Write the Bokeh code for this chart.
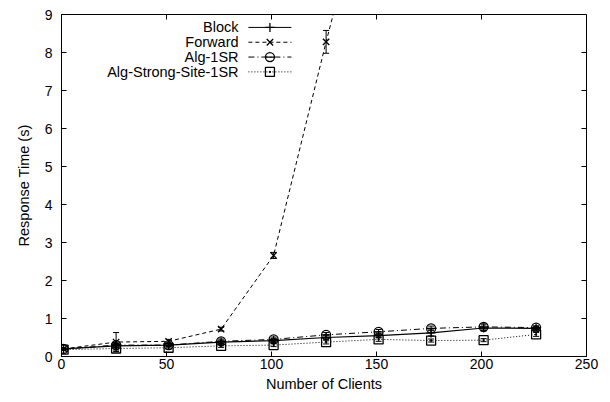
import numpy as np
from bokeh.plotting import figure
from bokeh.models import Range1d, FixedTicker, ColumnDataSource, Whisker, TeeHead
from bokeh.core.properties import value
from bokeh.embed import file_html
from bokeh.resources import INLINE

clients = [1, 26, 51, 76, 101, 126, 151, 176, 201, 226]
block = [0.20, 0.28, 0.30, 0.38, 0.42, 0.50, 0.55, 0.62, 0.75, 0.74]
block_err = [0.02, 0.05, 0.04, 0.05, 0.05, 0.06, 0.06, 0.08, 0.08, 0.05]
forward_x = [1, 26, 51, 76, 101, 126, 151]
forward = [0.20, 0.38, 0.40, 0.72, 2.66, 8.28, 13.6]
forward_err = [0.02, 0.25, 0.05, 0.05, 0.08, 0.30, 0.3]
alg1 = [0.20, 0.30, 0.30, 0.40, 0.45, 0.57, 0.65, 0.74, 0.78, 0.76]
alg1_err = [0.02, 0.06, 0.05, 0.06, 0.06, 0.06, 0.06, 0.06, 0.08, 0.05]
strong = [0.18, 0.21, 0.23, 0.28, 0.30, 0.38, 0.45, 0.42, 0.43, 0.58]
strong_err = [0.02, 0.04, 0.04, 0.04, 0.04, 0.05, 0.05, 0.04, 0.04, 0.05]

labels = ["Block", "Forward", "Alg-1SR", "Alg-Strong-Site-1SR"]
x_ticks = [0, 50, 100, 150, 200, 250]
y_ticks = [0, 1, 2, 3, 4, 5, 6, 7, 8, 9]

FONT = "Liberation Sans"
TICK_FS = "14px"
LABEL_FS = "14.5px"
X_MAX, Y_MAX = 250, 9

p = figure(width=600, height=394, output_backend="svg", toolbar_location=None,
           x_range=Range1d(0, X_MAX), y_range=Range1d(0, Y_MAX))
p.min_border_left = 61
p.min_border_right = 14
p.min_border_top = 14
p.min_border_bottom = 38
p.xgrid.visible = False
p.ygrid.visible = False
p.outline_line_color = "black"
p.outline_line_width = 1
p.background_fill_color = "white"
p.border_fill_color = "white"

for ax, ticks in ((p.xaxis[0], x_ticks), (p.yaxis[0], y_ticks)):
    ax.ticker = FixedTicker(ticks=ticks)
    ax.major_tick_in = 5
    ax.major_tick_out = 0
    ax.minor_tick_line_color = None
    ax.axis_line_color = "black"
    ax.major_tick_line_color = "black"
    ax.major_label_text_font = FONT
    ax.major_label_text_font_size = TICK_FS
    ax.major_label_text_color = "black"
    ax.axis_label_text_font = FONT
    ax.axis_label_text_font_size = LABEL_FS
    ax.axis_label_text_font_style = "normal"
    ax.axis_label_text_color = "black"

p.xaxis.axis_label = "Number of Clients"
p.yaxis.axis_label = "Response Time (s)"
p.xaxis.major_label_standoff = 2
p.xaxis.axis_label_standoff = 4
p.yaxis.major_label_standoff = 9
p.yaxis.axis_label_standoff = 10

# mirrored inward ticks on top and right borders (5 px long)
tx = 5 / 525 * X_MAX
ty = 5 / 342 * Y_MAX
p.segment(x0=x_ticks, y0=[Y_MAX] * len(x_ticks), x1=x_ticks, y1=[Y_MAX - ty] * len(x_ticks),
          line_color="black", line_width=1)
p.segment(x0=[X_MAX] * len(y_ticks), y0=y_ticks, x1=[X_MAX - tx] * len(y_ticks), y1=y_ticks,
          line_color="black", line_width=1)

def errbars(xs, ys, es):
    src = ColumnDataSource(dict(x=xs, upper=[y + e for y, e in zip(ys, es)],
                                lower=[max(y - e, 0) for y, e in zip(ys, es)]))
    w = Whisker(source=src, base="x", upper="upper", lower="lower",
                line_color="black", line_width=1,
                upper_head=TeeHead(size=6, line_color="black"),
                lower_head=TeeHead(size=6, line_color="black"))
    p.add_layout(w)

# Block
p.line(clients, block, line_color="black", line_width=1.2)
p.scatter(clients, block, marker="cross", size=9, line_color="black", line_width=1.3)
errbars(clients, block, block_err)
# Forward
p.line(forward_x, forward, line_color="black", line_width=1, line_dash="4 3")
p.scatter(forward_x, forward, marker="x", size=9, line_color="black", line_width=1.3)
errbars(forward_x, forward, forward_err)
# Alg-1SR
p.line(clients, alg1, line_color="black", line_width=1, line_dash="6 3 1 3")
p.scatter(clients, alg1, marker="circle", size=9, line_color="black", fill_color=None, line_width=1.3)
p.scatter(clients, alg1, marker="dash", size=9, line_color="black", line_width=1.3)
errbars(clients, alg1, alg1_err)
# Alg-Strong-Site-1SR
p.line(clients, strong, line_color="black", line_width=1, line_dash="1 2")
p.scatter(clients, strong, marker="square_dot", size=9, line_color="black", fill_color=None, line_width=1.3)
errbars(clients, strong, strong_err)

# Legend (gnuplot style: label right aligned, sample to the right)
leg_x_text = 84.3
leg_x0, leg_x1 = 89.0, 109.5
leg_xm = (leg_x0 + leg_x1) / 2
leg_y0 = 8.66
leg_dy = 0.39
dashes = ["solid", "4 3", "6 3 1 3", "1 2"]
markers = ["cross", "x", "circle", "square_dot"]
for i, lab in enumerate(labels):
    yy = leg_y0 - i * leg_dy
    p.text(x=[leg_x_text], y=[yy], text=[lab], text_font=value(FONT),
           text_font_size=LABEL_FS, text_align="right", text_baseline="middle",
           text_color="black")
    p.segment(x0=[leg_x0], y0=[yy], x1=[leg_x1], y1=[yy], line_color="black",
              line_width=1, line_dash=dashes[i])
    p.scatter([leg_xm], [yy], marker=markers[i], size=9, line_color="black",
              fill_color=None, line_width=1.3)
    if i == 2:
        p.scatter([leg_xm], [yy], marker="dash", size=9, line_color="black", line_width=1.3)

open("out.html", "w").write(file_html(p, INLINE))
